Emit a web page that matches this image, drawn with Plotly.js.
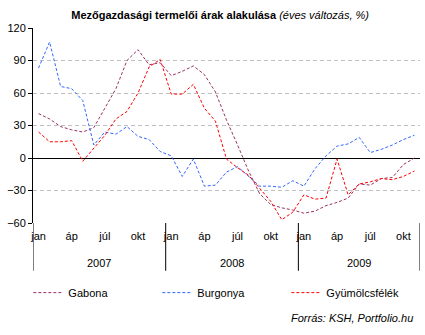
<!DOCTYPE html>
<html>
<head>
<meta charset="utf-8">
<script src="https://cdn.plot.ly/plotly-3.0.1.min.js"></script>
<style>html,body{margin:0;padding:0;background:#fff;}#chart{width:425px;height:335px;}</style>
</head>
<body>
<div id="chart"></div>
<script>
// Categories: months Jan 2007 – Nov 2009
const years = ['2007', '2008', '2009'];
const monthNames = ['jan','feb','márc','ápr','máj','jún','júl','aug','szept','okt','nov','dec'];
const categories = [];
for (const y of years) {
  for (const m of monthNames) {
    if (y === '2009' && m === 'dec') continue;
    categories.push(y + ' ' + m);
  }
}

// Éves változás, %
const gabona = [41, 36, 29, 26, 24, 28, 46, 64, 90, 100, 86, 88,
                76, 80, 85, 77, 61, 35, 12, -12, -33, -43, -46, -48,
                -51, -49, -44, -41, -37, -24, -25, -19, -18, -6, 0];
const burgonya = [83, 107, 66, 64, 53, 12, 24, 22, 29, 20, 17, 6,
                  2, -17, -1, -26, -25, -13, -8, -17, -26, -26, -27, -21,
                  -26, -10, 2, 11, 13, 19, 5, 8, 12, 17, 21];
const gyumolcs = [24, 15, 15, 16, -3, 9, 21, 36, 43, 60, 84, 91,
                  59, 59, 68, 46, 34, -1, -9, -16, -28, -40, -57, -50,
                  -34, -38, -37, -1, -34, -24, -22, -19, -20, -17, -12];

const seriesNames = ['Gabona', 'Burgonya', 'Gyümölcsfélék'];
const seriesColors = ['#993366', '#3366FF', '#FF0000'];
const seriesData = [gabona, burgonya, gyumolcs];

const tickLabels = ['jan', 'áp', 'júl', 'okt'];
const tickMonthIdx = [0, 3, 6, 9];

const tickvals = [], ticktext = [];
categories.forEach((c, i) => {
  const k = tickMonthIdx.indexOf(i % 12);
  if (k >= 0) { tickvals.push(c); ticktext.push(tickLabels[k]); }
});

const FONT = 'Liberation Sans, Arial, sans-serif';

const traces = seriesData.map((d, i) => ({
  type: 'scatter', mode: 'lines',
  x: categories, y: d, name: seriesNames[i],
  line: {color: seriesColors[i], width: 1, dash: '3px,2px'},
  hoverinfo: 'skip'
}));

// Year separators and year labels (positions derived from categories)
const shapes = [];
const annotations = [];
const bounds = [-0.5, 11.5, 23.5, categories.length - 0.5];
bounds.forEach(b => shapes.push({
  type: 'line', xref: 'x', yref: 'paper', x0: b, x1: b, y0: 0, y1: -0.245,
  line: {color: '#000', width: 1}
}));
years.forEach((y, i) => {
  annotations.push({
    xref: 'x', yref: 'paper', x: (bounds[i] + bounds[i + 1]) / 2, y: -0.205,
    text: y, showarrow: false, xanchor: 'center', yanchor: 'middle',
    font: {family: FONT, size: 11, color: '#000'}
  });
});
annotations.push({
  xref: 'paper', yref: 'paper', x: 0.987, y: -0.487,
  text: '<i>Forrás: KSH, Portfolio.hu</i>', showarrow: false,
  xanchor: 'right', yanchor: 'middle',
  font: {family: FONT, size: 11, color: '#000'}
});

const layout = {
  width: 425, height: 335,
  margin: {l: 33.3, r: 5, t: 28, b: 112},
  paper_bgcolor: '#fff', plot_bgcolor: '#fff',
  font: {family: FONT, size: 11, color: '#000'},
  title: {
    text: '<b>Mezőgazdasági termelői árak alakulása</b> <i>(éves változás, %)</i>',
    x: 0.518, xref: 'container', xanchor: 'center',
    y: 0.955, yref: 'container', yanchor: 'middle',
    font: {family: FONT, size: 11, color: '#000'}
  },
  xaxis: {
    type: 'category', categoryarray: categories, categoryorder: 'array',
    range: [-0.5, categories.length - 0.5],
    tickvals: tickvals, ticktext: ticktext,
    showgrid: false, zeroline: false, showline: false, ticks: '',
    ticklabelstandoff: 5,
    tickfont: {family: FONT, size: 11, color: '#000'}
  },
  yaxis: {
    range: [-60, 120], dtick: 30, tick0: 0,
    showgrid: true, gridcolor: '#C0C0C0', griddash: '4px,3px', gridwidth: 1,
    zeroline: true, zerolinecolor: '#000', zerolinewidth: 1,
    showline: true, linecolor: '#000', linewidth: 1,
    ticks: 'outside', ticklen: 4, tickcolor: '#000',
    tickfont: {family: FONT, size: 11, color: '#000'}
  },
  showlegend: true,
  legend: {
    orientation: 'h', x: -0.012, xanchor: 'left', y: -0.357, yanchor: 'middle',
    entrywidth: 84, entrywidthmode: 'pixels',
    font: {family: FONT, size: 11, color: '#000'},
    bgcolor: 'rgba(0,0,0,0)'
  },
  shapes: shapes,
  annotations: annotations
};

Plotly.newPlot('chart', traces, layout, {displayModeBar: false, staticPlot: true});
</script>
</body>
</html>
